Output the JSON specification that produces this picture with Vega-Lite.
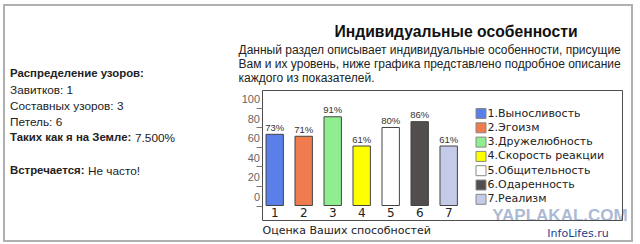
{
  "$schema": "https://vega.github.io/schema/vega-lite/v6.json",
  "width": 628,
  "height": 236,
  "autosize": {"type": "none"},
  "padding": {"left": 4, "top": 5, "right": 8, "bottom": 3},
  "background": "white",
  "view": {"stroke": "#b0b0b0", "strokeWidth": 2},
  "config": {"font": "Liberation Sans", "axis": {"grid": false}},
  "title": {"text": "Индивидуальные особенности", "anchor": "middle", "frame": "group", "dx": 138, "offset": -36, "fontSize": 15.7, "fontWeight": "bold", "font": "Liberation Sans", "color": "#111111"},
  "layer": [
    {
      "data": {"values": [
        {"line": 1, "bold": "Распределение узоров:", "normal": ""},
        {"line": 2, "bold": "", "normal": "Завитков: 1"},
        {"line": 3, "bold": "", "normal": "Составных узоров: 3"},
        {"line": 4, "bold": "", "normal": "Петель: 6"},
        {"line": 5, "bold": "Таких как я на Земле:", "normal": "7.500%"},
        {"line": 7, "bold": "Встречается:", "normal": "Не часто!"}
      ]},
      "encoding": {
        "x": {"datum": 0, "type": "quantitative", "scale": {"domain": [0, 1]},
          "axis": {"orient": "top", "labels": false, "ticks": false, "domain": false,
            "title": ["Данный раздел описывает индивидуальные особенности, присущие", "Вам и их уровень, ниже графика представлено подробное описание", "каждого из показателей."],
            "titleX": 234, "titleY": 39, "titleAlign": "left", "titleBaseline": "top", "titleAngle": 0, "titleFont": "Liberation Sans", "titleFontSize": 12, "titleFontWeight": "normal", "titleColor": "#222222", "titleLineHeight": 14}},
        "y": {"field": "line", "type": "ordinal", "scale": {"type": "point", "domain": [1, 2, 3, 4, 5, 6, 7], "range": [68.5, 165.7], "padding": 0}, "axis": null}
      },
      "layer": [
        {
          "mark": {"type": "text", "align": "left", "baseline": "middle", "fontSize": 11.4, "fontWeight": "bold", "color": "#222222", "dx": 6},
          "encoding": {"text": {"field": "bold"}}
        },
        {
          "transform": [{"filter": "datum.line <= 4"}],
          "mark": {"type": "text", "align": "left", "baseline": "middle", "fontSize": 11.8, "color": "#222222", "dx": 6},
          "encoding": {"text": {"field": "normal"}}
        },
        {
          "transform": [{"filter": "datum.line == 5"}],
          "mark": {"type": "text", "align": "left", "baseline": "middle", "fontSize": 11.8, "color": "#222222", "dx": 131},
          "encoding": {"text": {"field": "normal"}}
        },
        {
          "transform": [{"filter": "datum.line == 7"}],
          "mark": {"type": "text", "align": "left", "baseline": "middle", "fontSize": 11.8, "color": "#222222", "dx": 84},
          "encoding": {"text": {"field": "normal"}}
        }
      ]
    },
    {
      "data": {"values": [{"part": "chart box"}]},
      "mark": {"type": "rect", "fill": "transparent", "stroke": "#4d4d4d", "strokeWidth": 1},
      "encoding": {
        "x": {"datum": 0, "type": "quantitative", "scale": {"domain": [0, 1], "range": [258.5, 618.5]},
          "axis": {"orient": "bottom", "labels": false, "ticks": false, "domain": false, "title": "InfoLifes.ru", "titleX": 573.5, "titleY": -8, "titleAlign": "center", "titleBaseline": "middle", "titleFont": "DejaVu Sans", "titleFontSize": 11, "titleFontWeight": "normal", "titleColor": "#23408f"}},
        "x2": {"datum": 1},
        "y": {"datum": 0, "type": "quantitative", "scale": {"domain": [0, 1], "range": [215.5, 85.5]},
          "axis": {"orient": "left", "labels": false, "ticks": false, "domain": false, "title": "YAPLAKAL.COM", "titleAngle": 0, "titleX": 555.5, "titleY": 210, "titleAlign": "center", "titleBaseline": "middle", "titleFont": "Liberation Sans", "titleFontSize": 17, "titleFontWeight": "bold", "titleColor": "#9fb1cf", "titleOpacity": 0.9}},
        "y2": {"datum": 1}
      }
    },
    {
      "data": {"values": [
        {"n": "1", "name": "1.Выносливость", "score": 73, "label": "73%"},
        {"n": "2", "name": "2.Эгоизм", "score": 71, "label": "71%"},
        {"n": "3", "name": "3.Дружелюбность", "score": 91, "label": "91%"},
        {"n": "4", "name": "4.Скорость реакции", "score": 61, "label": "61%"},
        {"n": "5", "name": "5.Общительность", "score": 80, "label": "80%"},
        {"n": "6", "name": "6.Одаренность", "score": 86, "label": "86%"},
        {"n": "7", "name": "7.Реализм", "score": 61, "label": "61%"}
      ]},
      "encoding": {
        "x": {
          "field": "n", "type": "nominal", "sort": null,
          "scale": {"range": [258, 457.4], "paddingInner": 0.4, "paddingOuter": 0.138},
          "axis": {"orient": "bottom", "offset": -35.5, "domain": false, "ticks": false, "labelAngle": 0, "labelFont": "DejaVu Sans", "labelFontSize": 12, "labelColor": "#222222", "labelPadding": 2,
            "title": "Оценка Ваших способностей", "titleX": 258, "titleY": 24.5, "titleAlign": "left", "titleBaseline": "middle", "titleFont": "DejaVu Sans", "titleFontSize": 11, "titleFontWeight": "normal", "titleColor": "#222222"}
        },
        "y": {
          "field": "score", "type": "quantitative",
          "scale": {"domain": [-36.41, 205.64], "nice": false, "zero": false},
          "axis": {"orient": "left", "offset": -258, "zindex": 1, "values": [0, 20, 40, 60, 80, 100], "domain": false, "tickSize": 6, "tickColor": "#777777", "labelFont": "Liberation Sans", "labelFontSize": 11, "labelColor": "#666666", "labelPadding": -3.5, "labelOffset": -8, "labelBaseline": "middle", "title": null}
        }
      },
      "layer": [
        {
          "mark": {"type": "bar", "stroke": "#444444", "strokeWidth": 1},
          "encoding": {
            "y2": {"datum": 0},
            "color": {
              "field": "name", "type": "nominal",
              "scale": {"domain": ["1.Выносливость", "2.Эгоизм", "3.Дружелюбность", "4.Скорость реакции", "5.Общительность", "6.Одаренность", "7.Реализм"], "range": ["#5b7fe8", "#ef7b4e", "#90ee90", "#ffff00", "#ffffff", "#524e4e", "#c3cbe8"]},
              "legend": {"orient": "none", "legendX": 471.5, "legendY": 103, "title": null, "symbolType": "square", "symbolSize": 100, "symbolStrokeColor": "#888888", "symbolStrokeWidth": 1, "symbolOpacity": 1, "labelFont": "DejaVu Sans", "labelFontSize": 11, "labelColor": "#222222", "labelOffset": 1, "rowPadding": -0.7, "labelLimit": 300}
            }
          }
        },
        {
          "mark": {"type": "text", "baseline": "alphabetic", "dy": -3.5, "fontSize": 9.5, "font": "Liberation Sans Narrow, Liberation Sans", "color": "#333333"},
          "encoding": {"text": {"field": "label"}}
        }
      ]
    }
  ],
  "resolve": {"scale": {"x": "independent", "y": "independent"}, "axis": {"x": "independent", "y": "independent"}}
}
